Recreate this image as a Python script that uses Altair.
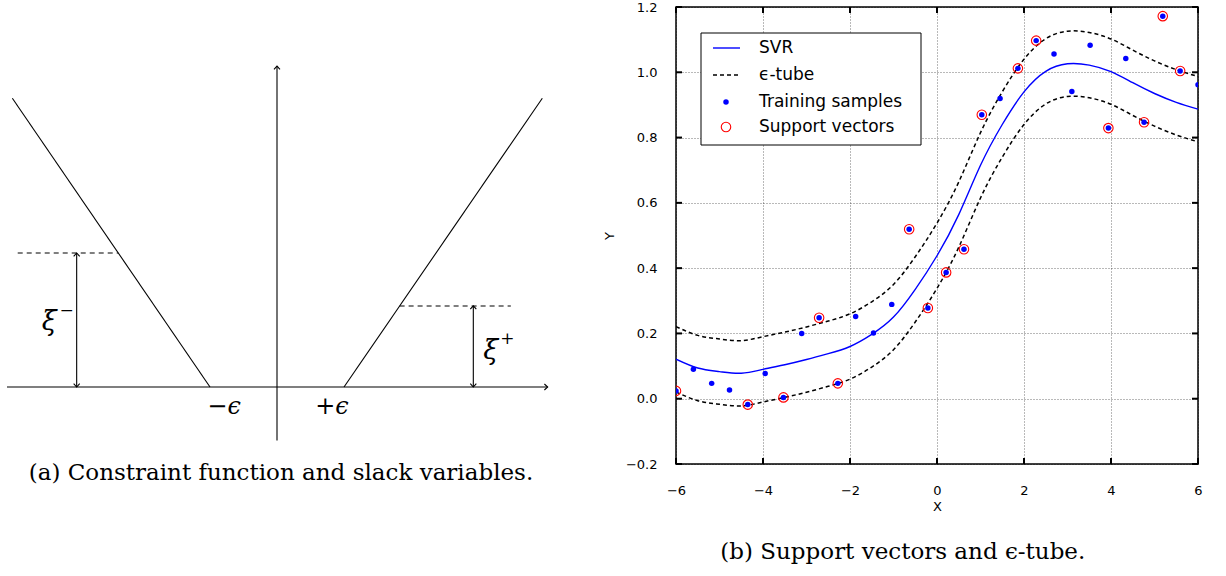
import altair as alt
import pandas as pd

# ---------------- panel (a): schematic, units where epsilon = 1 ----------------
solid_x1 = [-4.03, 0.00, -3.95, 1.00, -2.99, 2.93]
solid_y1 = [0.00, -0.80, 4.31, 0.00, 0.00, 0.00]
solid_x2 = [4.04, 0.00, -1.00, 3.96, -2.99, 2.93]
solid_y2 = [0.00, 4.79, 0.00, 4.31, 2.00, 1.21]

dash_x1 = [-3.87, 1.83]
dash_y1 = [2.00, 1.21]
dash_x2 = [-2.37, 3.49]
dash_y2 = [2.00, 1.21]

head_x = [0.00, 4.04, -2.99, -2.99, 2.93, 2.93]
head_y = [4.79, 0.00, 2.00, 0.00, 1.21, 0.00]
head_angle = [270, 0, 270, 90, 270, 90]

xi_text = ["ξ", "ξ"]
xi_x = [-3.40, 3.19]
xi_y = [0.97, 0.54]
sup_text = ["−", "+"]
sup_x = [-3.14, 3.44]
sup_y = [1.14, 0.72]
eps_text = ["−ϵ", "+ϵ"]
eps_x = [-0.79, 0.82]
eps_y = [-0.30, -0.30]

# ---------------- panel (b): SVR fit ----------------
sample_x = [-6.00, -5.60, -5.18, -4.77, -4.35, -3.95, -3.53, -3.11, -2.71, -2.28,
            -1.87, -1.46, -1.04, -0.64, -0.21, 0.21, 0.62, 1.03, 1.45, 1.86,
            2.28, 2.69, 3.10, 3.52, 3.94, 4.34, 4.76, 5.19, 5.59, 6.00]
sample_y = [0.024, 0.090, 0.047, 0.027, -0.018, 0.077, 0.004, 0.200, 0.248, 0.047,
            0.252, 0.201, 0.289, 0.519, 0.278, 0.387, 0.458, 0.870, 0.920, 1.012,
            1.097, 1.056, 0.941, 1.083, 0.829, 1.042, 0.847, 1.172, 1.004, 0.962]
is_sv = [1, 0, 0, 0, 1, 0, 1, 0, 1, 1,
         0, 0, 0, 1, 1, 1, 1, 1, 0, 1,
         1, 0, 0, 0, 1, 0, 1, 1, 1, 0]

svr_x = [-6.0, -5.5, -5.0, -4.5, -4.0, -3.5, -3.0, -2.5, -2.0, -1.5, -1.0, -0.5, 0.0,
         0.5, 1.0, 1.5, 2.0, 2.5, 3.0, 3.5, 4.0, 4.5, 5.0, 5.5, 6.0]
svr_y = [0.121, 0.094, 0.083, 0.078, 0.090, 0.104, 0.120, 0.138, 0.160, 0.197, 0.250, 0.335, 0.438,
         0.564, 0.715, 0.840, 0.940, 1.003, 1.026, 1.022, 1.002, 0.968, 0.935, 0.908, 0.887]
tube_upper = [0.221, 0.194, 0.183, 0.178, 0.190, 0.204, 0.220, 0.238, 0.260, 0.297, 0.350, 0.435, 0.538,
              0.664, 0.815, 0.940, 1.040, 1.103, 1.126, 1.122, 1.102, 1.068, 1.035, 1.008, 0.987]
tube_lower = [0.021, -0.006, -0.017, -0.022, -0.010, 0.004, 0.020, 0.038, 0.060, 0.097, 0.150, 0.235, 0.338,
              0.464, 0.615, 0.740, 0.840, 0.903, 0.926, 0.922, 0.902, 0.868, 0.835, 0.808, 0.787]

x_ticks = [-6, -4, -2, 0, 2, 4, 6]
y_ticks = [-0.2, 0.0, 0.2, 0.4, 0.6, 0.8, 1.0, 1.2]

legend_labels = ["SVR", "ϵ-tube", "Training samples", "Support vectors"]

BLUE = "#0000ff"
RED = "#ff0000"

# ======================= panel (a) =======================
XL = alt.X("x:Q", scale=alt.Scale(domain=[-276 / 67, (560 - 276) / 67], nice=False, zero=False), axis=None)
YL = alt.Y("y:Q", scale=alt.Scale(domain=[(380 - 457) / 67, 380 / 67], nice=False, zero=False), axis=None)

solid_df = pd.DataFrame({"x": solid_x1, "y": solid_y1, "x2": solid_x2, "y2": solid_y2})
dash_df = pd.DataFrame({"x": dash_x1, "y": dash_y1, "x2": dash_x2, "y2": dash_y2})
head_df = pd.DataFrame({"x": head_x, "y": head_y, "angle": head_angle})
xi_df = pd.DataFrame({"x": xi_x, "y": xi_y, "t": xi_text})
sup_df = pd.DataFrame({"x": sup_x, "y": sup_y, "t": sup_text})
eps_df = pd.DataFrame({"x": eps_x, "y": eps_y, "t": eps_text})

solid = alt.Chart(solid_df).mark_rule(color="black", strokeWidth=1.1).encode(
    x=XL, y=YL, x2="x2:Q", y2="y2:Q")
dashed = alt.Chart(dash_df).mark_rule(color="black", strokeWidth=1.1, strokeDash=[5, 4]).encode(
    x=XL, y=YL, x2="x2:Q", y2="y2:Q")
heads = alt.Chart(head_df).mark_point(
    shape="M -1.2 -1.1 L 0 0 L -1.2 1.1", filled=False, color="black", strokeWidth=1.1, size=30, opacity=1
).encode(x=XL, y=YL, angle=alt.Angle("angle:Q", scale=None))
xi = alt.Chart(xi_df).mark_text(font="DejaVu Serif", fontStyle="italic", fontSize=27, color="black").encode(
    x=XL, y=YL, text="t:N")
sup = alt.Chart(sup_df).mark_text(font="DejaVu Serif", fontSize=17, color="black").encode(
    x=XL, y=YL, text="t:N")
eps = alt.Chart(eps_df).mark_text(font="DejaVu Serif", fontStyle="italic", fontSize=24, color="black").encode(
    x=XL, y=YL, text="t:N")

panel_a = alt.layer(solid, dashed, heads, xi, sup, eps).properties(
    width=560, height=457,
    view=alt.ViewBackground(stroke="transparent"),
    title=alt.TitleParams("(a) Constraint function and slack variables.", orient="bottom", anchor="middle",
                          frame="bounds", font="DejaVu Serif", fontSize=23, fontWeight="normal",
                          color="black", offset=-2),
)

# ======================= panel (b) =======================
x_axis = alt.Axis(values=x_ticks, format="d", title="X", grid=True, ticks=False, domain=False,
                  labelFont="DejaVu Sans", labelFontSize=13, labelColor="black", labelPadding=20,
                  labelFlush=False, labelOverlap=False,
                  titleFont="DejaVu Sans", titleFontSize=13, titleFontWeight="normal", titleColor="black",
                  titlePadding=3,
                  gridColor="black", gridDash=[1, 2], gridOpacity=0.55, gridWidth=1)
y_axis = alt.Axis(values=y_ticks, format=".1f", title="Y", grid=True, ticks=False, domain=False,
                  labelFont="DejaVu Sans", labelFontSize=13, labelColor="black", labelPadding=19,
                  labelFlush=False, labelOverlap=False,
                  titleFont="DejaVu Sans", titleFontSize=13, titleFontWeight="normal", titleColor="black",
                  titlePadding=9,
                  gridColor="black", gridDash=[1, 2], gridOpacity=0.55, gridWidth=1)
XR = alt.X("x:Q", scale=alt.Scale(domain=[-6, 6], nice=False, zero=False), axis=x_axis)
YR = alt.Y("y:Q", scale=alt.Scale(domain=[-0.2, 1.2], nice=False, zero=False), axis=y_axis)

W, H = 522, 457

svr_df = pd.DataFrame({"x": svr_x, "y": svr_y})
tube_df = pd.concat([
    pd.DataFrame({"x": svr_x, "y": tube_upper, "s": "upper"}),
    pd.DataFrame({"x": svr_x, "y": tube_lower, "s": "lower"}),
])
samp_df = pd.DataFrame({"x": sample_x, "y": sample_y, "sv": is_sv})
sv_df = samp_df[samp_df["sv"] == 1]

tube = alt.Chart(tube_df).mark_line(color="black", strokeWidth=1.5, strokeDash=[4, 3],
                                    interpolate="natural", clip=True).encode(
    x=XR, y=YR, detail="s:N")
svr = alt.Chart(svr_df).mark_line(color=BLUE, strokeWidth=1.4, interpolate="natural", clip=True).encode(
    x=XR, y=YR)
dots = alt.Chart(samp_df).mark_circle(color=BLUE, size=30, opacity=1, clip=True).encode(x=XR, y=YR)
rings = alt.Chart(sv_df).mark_point(color=RED, size=90, strokeWidth=1.1, filled=False, opacity=1,
                                    clip=True).encode(x=XR, y=YR)

# inward tick marks on all four sides
xt_df = pd.DataFrame({"x": x_ticks})
yt_df = pd.DataFrame({"y": y_ticks})
tick_style = dict(color="black", strokeWidth=2)
t_bottom = alt.Chart(xt_df).mark_rule(**tick_style).encode(x=XR, y=alt.value(H), y2=alt.value(H - 6))
t_top = alt.Chart(xt_df).mark_rule(**tick_style).encode(x=XR, y=alt.value(0), y2=alt.value(6))
t_left = alt.Chart(yt_df).mark_rule(**tick_style).encode(y=YR, x=alt.value(0), x2=alt.value(6))
t_right = alt.Chart(yt_df).mark_rule(**tick_style).encode(y=YR, x=alt.value(W - 6), x2=alt.value(W))

# manual legend
one = pd.DataFrame({"k": [0]})
leg_box = alt.Chart(one).mark_rect(fill="white", stroke="black", strokeWidth=1).encode(
    x=alt.value(25), x2=alt.value(245), y=alt.value(26), y2=alt.value(138))
leg_rows = [41, 68, 95, 120]
leg_svr = alt.Chart(one).mark_rule(color=BLUE, strokeWidth=1.4).encode(
    x=alt.value(37), x2=alt.value(64), y=alt.value(leg_rows[0]))
leg_tube = alt.Chart(one).mark_rule(color="black", strokeWidth=1.5, strokeDash=[4, 3]).encode(
    x=alt.value(37), x2=alt.value(64), y=alt.value(leg_rows[1]))
leg_dot = alt.Chart(one).mark_circle(color=BLUE, size=30, opacity=1).encode(
    x=alt.value(50), y=alt.value(leg_rows[2]))
leg_ring = alt.Chart(one).mark_point(color=RED, size=90, strokeWidth=1.1, filled=False, opacity=1).encode(
    x=alt.value(50), y=alt.value(leg_rows[3]))
leg_texts = [
    alt.Chart(one).mark_text(text=lab, font="DejaVu Sans", fontSize=17, color="black",
                             align="left", baseline="middle").encode(x=alt.value(83), y=alt.value(yy))
    for lab, yy in zip(legend_labels, leg_rows)
]

panel_b = alt.layer(
    tube, svr, dots, rings, t_bottom, t_top, t_left, t_right,
    leg_box, leg_svr, leg_tube, leg_dot, leg_ring, *leg_texts
).properties(
    width=W, height=H,
    view=alt.ViewBackground(stroke="black", strokeWidth=1.5),
    title=alt.TitleParams("(b) Support vectors and ϵ-tube.", orient="bottom", anchor="middle",
                          frame="bounds", font="DejaVu Serif", fontSize=23, fontWeight="normal",
                          color="black", offset=28),
)

chart = alt.hconcat(panel_a, panel_b, spacing=40).properties(
    padding=0, background="white"
)

chart.save("out.html", embed_options={"renderer": "svg", "actions": False})
